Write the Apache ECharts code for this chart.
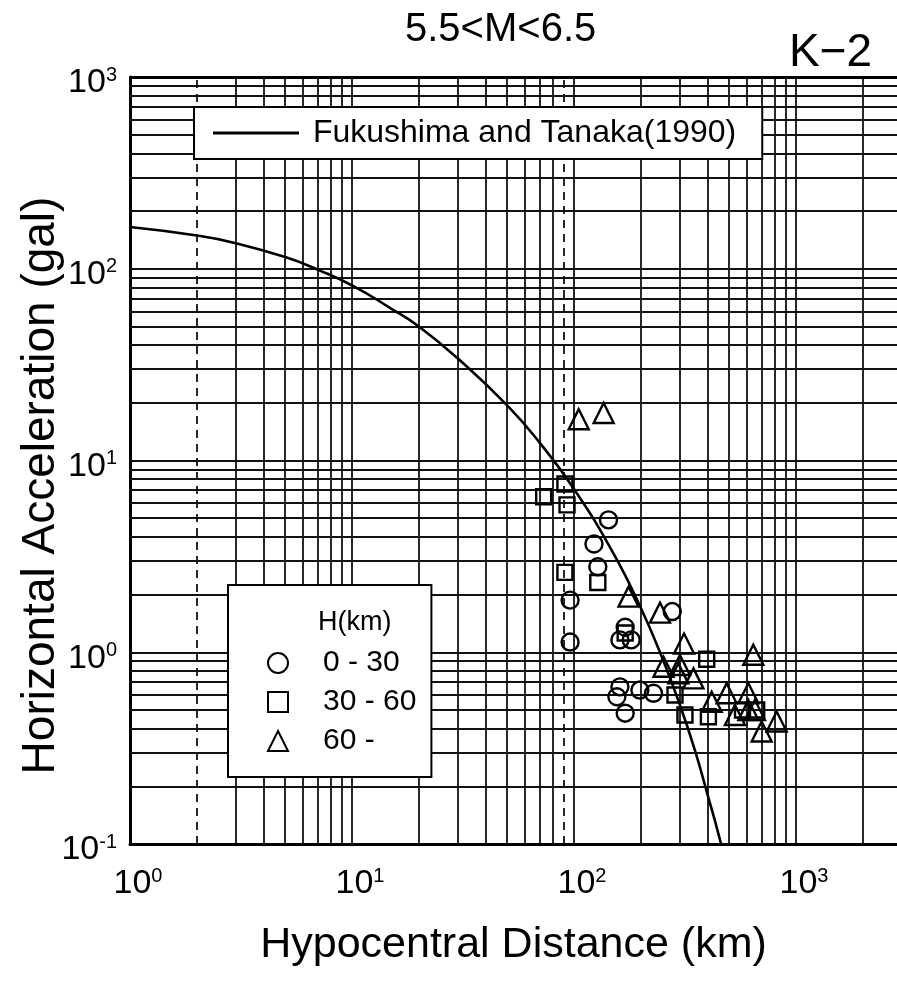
<!DOCTYPE html>
<html>
<head>
<meta charset="utf-8">
<script src="https://cdn.jsdelivr.net/npm/echarts@6/dist/echarts.min.js"></script>
<style>
html,body{margin:0;padding:0;background:#fff;}
#chart{width:897px;height:988px;}
</style>
</head>
<body>
<div id="chart"></div>
<script>
// ---- data ----
const curveName = 'Fukushima and Tanaka(1990)';
const curveR = [1, 2, 3, 5, 7, 10, 15, 20, 30, 50, 70, 100, 150, 200, 250, 300, 350, 400, 450, 480];
const curveA = [165, 149, 136, 115, 99, 82, 62, 50, 34, 19.4, 12.4, 7.1, 3.3, 1.7, 0.93, 0.53, 0.31, 0.18, 0.11, 0.08];

const circleR = [143, 123, 128, 96, 96, 170, 161, 181, 277, 161, 198, 228, 156, 170];
const circleA = [4.9, 3.67, 2.79, 1.87, 1.13, 1.35, 1.16, 1.16, 1.63, 0.66, 0.635, 0.611, 0.586, 0.481];

const squareR = [91, 73, 93, 91, 128, 170, 396, 285, 316, 403, 574, 665];
const squareA = [7.54, 6.47, 5.87, 2.61, 2.31, 1.26, 0.92, 0.598, 0.471, 0.461, 0.5, 0.5];

const triR = [105, 136, 176, 244, 313, 642, 253, 300, 295, 345, 417, 487, 610, 531, 610, 653, 700, 818];
const triA = [16.4, 17.7, 1.95, 1.61, 1.11, 0.97, 0.84, 0.858, 0.776, 0.731, 0.552, 0.611, 0.611, 0.471, 0.5, 0.5, 0.386, 0.435];

const depthNames = ['0 - 30', '30 - 60', '60 -'];
const xMin = 1, xMax = 2850, yMin = 0.1, yMax = 1000;
const xGridMult = [1,2,3,4,5,6,7,8,9];
const xDecades = [1, 10, 100, 1000];
const yDecades = [0.1, 1, 10, 100];
const xDashed = [2, 90];

// ---- helpers ----
const FONT = '"Liberation Sans", Arial, sans-serif';
const pair = (xs, ys) => xs.map((x, i) => [x, ys[i]]);

const gridLines = [];
xDecades.forEach(d => xGridMult.forEach(k => {
  const v = +(k * d).toPrecision(6);
  if (v <= xMax && v > xMin) {
    gridLines.push({xAxis: v, lineStyle: {color: '#111', width: 1.8, type: xDashed.includes(v) ? [8, 6] : 'solid'}});
  }
}));
yDecades.forEach(d => xGridMult.forEach(k => {
  const v = +(k * d).toPrecision(6);
  if (v > yMin && v < yMax) {
    gridLines.push({yAxis: v, lineStyle: {color: '#111', width: 1.8, type: 'solid'}});
  }
}));
gridLines.push({yAxis: yMax, lineStyle: {color: '#000', width: 3, type: 'solid'}});

function powLabel(v) {
  const l = Math.log10(v);
  const e = Math.round(l);
  if (Math.abs(l - e) > 1e-6) return '';
  return '{sp|}{b|10}{s|' + e + '}';
}
const richLab = {
  sp: {width: 16},
  b: {fontSize: 34, lineHeight: 36, fontFamily: FONT, color: '#000'},
  s: {fontSize: 20, lineHeight: 20, verticalAlign: 'top', fontFamily: FONT, color: '#000'}
};
const richLabY = {
  b: {fontSize: 34, lineHeight: 36, fontFamily: FONT, color: '#000'},
  s: {fontSize: 20, lineHeight: 20, verticalAlign: 'top', fontFamily: FONT, color: '#000'}
};

const markerStyle = {color: 'rgba(0,0,0,0)', borderColor: '#000', borderWidth: 2.4, opacity: 1};

const chart = echarts.init(document.getElementById('chart'), null, {renderer: 'canvas'});
chart.setOption({
  animation: false,
  backgroundColor: '#fff',
  textStyle: {fontFamily: FONT},
  title: [
    {text: '5.5<M<6.5', left: 405, top: 10, padding: 0, textStyle: {fontSize: 40, fontWeight: 'normal', color: '#000', fontFamily: FONT}},
    {text: 'K\u22122', left: 789, top: 30, padding: 0, textStyle: {fontSize: 46, fontWeight: 'normal', color: '#000', fontFamily: FONT}},
    {text: 'H(km)', left: 318, top: 609, padding: 0, z: 20, textStyle: {fontSize: 27, fontWeight: 'normal', color: '#000', fontFamily: FONT}}
  ],
  grid: {left: 130, top: 77, right: 0, bottom: 144, containLabel: false},
  xAxis: {
    type: 'log', logBase: 10, min: xMin, max: xMax,
    axisLine: {show: true, lineStyle: {color: '#000', width: 3}},
    axisTick: {show: false},
    splitLine: {show: false},
    minorSplitLine: {show: false},
    axisLabel: {formatter: powLabel, rich: richLab, margin: 22, showMaxLabel: false},
    name: 'Hypocentral Distance (km)', nameLocation: 'middle', nameGap: 80, nameMoveOverlap: false,
    nameTextStyle: {fontSize: 43, color: '#000', fontFamily: FONT}
  },
  yAxis: {
    type: 'log', logBase: 10, min: yMin, max: yMax,
    axisLine: {show: true, lineStyle: {color: '#000', width: 3}},
    axisTick: {show: false},
    splitLine: {show: false},
    axisLabel: {formatter: v => powLabel(v).replace('{sp|}', ''), rich: richLabY, margin: 13, padding: [12, 0, 0, 0]},
    name: 'Horizontal Acceleration (gal)', nameLocation: 'middle', nameGap: 66, nameMoveOverlap: false,
    nameTextStyle: {fontSize: 46, color: '#000', fontFamily: FONT, padding: [0, 50, 0, 0]}
  },
  legend: [
    {
      data: [curveName], left: 194, top: 107, orient: 'horizontal', z: 10,
      formatter: n => ' ' + n,
      icon: 'rect',
      padding: [10, 26, 10, 19], itemWidth: 86, itemHeight: 3, itemGap: 0,
      borderColor: '#000', borderWidth: 2, backgroundColor: '#fff',
      textStyle: {fontSize: 32, color: '#000', fontFamily: FONT}
    },
    {
      data: depthNames, left: 228, top: 585, orient: 'vertical', z: 10,
      formatter: n => '{g|}' + n,
      padding: [63, 15, 21, 39], itemWidth: 20, itemHeight: 20, itemGap: 9,
      borderColor: '#000', borderWidth: 2, backgroundColor: '#fff',
      textStyle: {fontSize: 30, color: '#000', fontFamily: FONT, rich: {g: {width: 30}}}
    }
  ],
  series: [
    {
      name: 'grid', type: 'scatter', data: [], z: 1, silent: true,
      markLine: {silent: true, z: 1, symbol: ['none', 'none'], label: {show: false}, animation: false, data: gridLines}
    },
    {
      name: curveName, type: 'line', data: pair(curveR, curveA), smooth: true, symbol: 'none', showSymbol: false,
      lineStyle: {color: '#000', width: 2.6}, itemStyle: {color: '#000'}, z: 3, clip: true
    },
    {name: depthNames[0], type: 'scatter', symbol: 'circle', symbolSize: 17, data: pair(circleR, circleA), itemStyle: markerStyle, z: 4},
    {name: depthNames[1], type: 'scatter', symbol: 'rect', symbolSize: 15, data: pair(squareR, squareA), itemStyle: markerStyle, z: 4},
    {name: depthNames[2], type: 'scatter', symbol: 'triangle', symbolSize: 20, data: pair(triR, triA), itemStyle: markerStyle, z: 4}
  ]
});
</script>
</body>
</html>
